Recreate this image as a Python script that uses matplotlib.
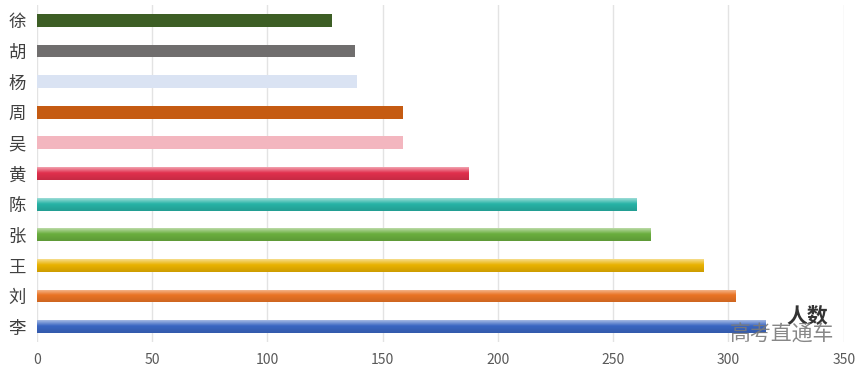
import matplotlib
matplotlib.use("Agg")
import matplotlib.pyplot as plt
import numpy as np
from matplotlib.colors import to_rgb

plt.rcParams['font.family'] = ['Noto Sans CJK SC', 'DejaVu Sans']

names = ['李', '刘', '王', '张', '陈', '黄', '吴', '周', '杨', '胡', '徐']
counts = [316, 303, 289, 266, 260, 187, 159, 159, 139, 138, 128]
colors = ['#3a66c2', '#ea7425', '#e9b200', '#6aae3e', '#27b3a6', '#e1304d',
          '#f3b6bf', '#c55b12', '#dae3f3', '#706e6e', '#3d5e25']
gradient = [True, True, True, True, True, True, False, False, False, False, False]
xticks = [0, 50, 100, 150, 200, 250, 300, 350]

fig = plt.figure(figsize=(8.66, 3.73), dpi=100)
ax = fig.add_axes([37/866, 31/373, (843.7-37)/866, (342-5)/373])

y = np.arange(len(names))
bars = ax.barh(y, counts, height=0.42, color=colors, zorder=3)

# vertical gradient (light top -> base -> slightly darker bottom)
t = np.linspace(0, 1, 64)
for b, c, g in zip(bars, colors, gradient):
    if not g:
        continue
    base = np.array(to_rgb(c))
    light = base + (1 - base) * 0.55
    dark = base * 0.88
    rows = []
    for v in t:
        if v < 0.45:
            k = v / 0.45
            rows.append(light * (1 - k) + base * k)
        else:
            k = (v - 0.45) / 0.55
            rows.append(base * (1 - k) + dark * k)
    img = np.array(rows)[:, None, :]
    x0, y0 = b.get_x(), b.get_y()
    w, h = b.get_width(), b.get_height()
    b.set_facecolor('none')
    im = ax.imshow(img, extent=(x0, x0 + w, y0, y0 + h), aspect='auto',
                   interpolation='bilinear', zorder=3, origin='upper')
    im.set_clip_path(b)

ax.set_xlim(0, 350)
ax.set_ylim(-0.5, len(names) - 0.5)
ax.set_yticks(y)
ax.set_yticklabels(names, fontsize=12.5, color='#404040')
ax.set_xticks(xticks)
ax.set_xticklabels([str(v) for v in xticks], fontsize=10, color='#595959')
ax.tick_params(length=0, pad=8)
ax.tick_params(axis='y', pad=8)
ax.grid(axis='x', color='#e3e3e3', linewidth=1.0, zorder=0)
ax.set_axisbelow(True)
for s in ax.spines.values():
    s.set_visible(False)

fig.text(807/866, 1 - 316/373, '人数', ha='center', va='center', fontsize=15,
         fontweight='bold', color='#333333', zorder=10)
fig.text(782/866, 1 - 335/373, '高考直通车', ha='center', va='center', fontsize=15,
         color='#7a7a7a', alpha=0.9, zorder=11)

fig.savefig('out.png', dpi=100)
